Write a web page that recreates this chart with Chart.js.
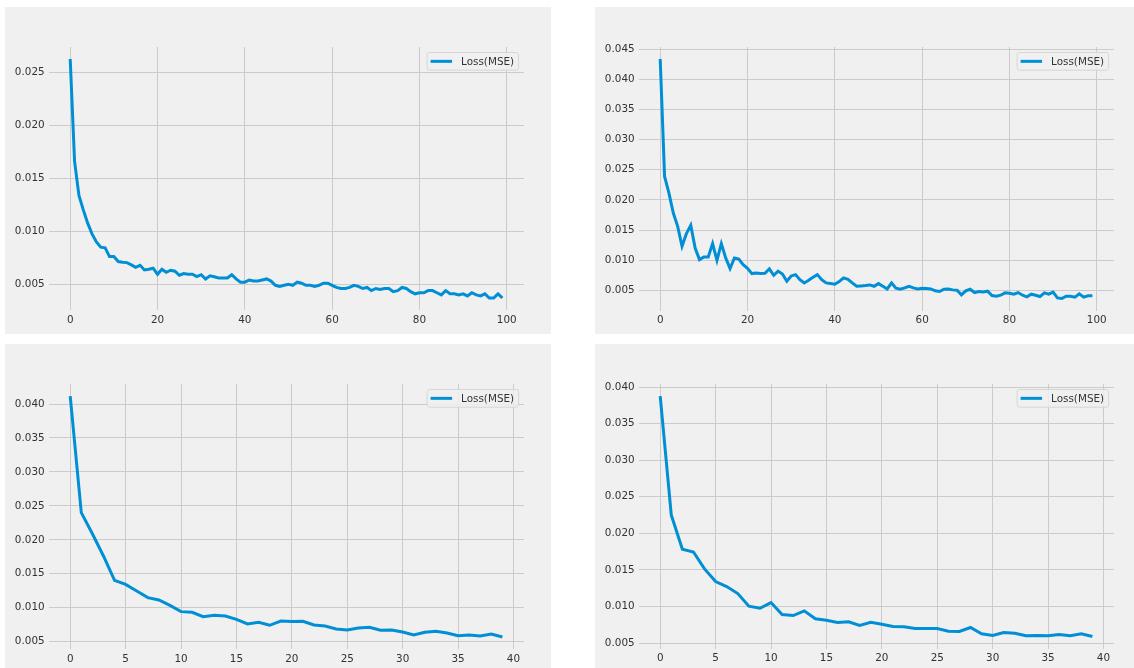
<!DOCTYPE html>
<html>
<head>
<meta charset="utf-8">
<script src="https://cdn.jsdelivr.net/npm/chart.js@4.4.1/dist/chart.umd.min.js"></script>
<style>
    body { margin: 0; background: #ffffff; width: 1134px; height: 668px; overflow: hidden; position: relative; }
    .panel { position: absolute; background: #f0f0f0; width: 546px; }
    .panel canvas { display: block; }
</style>
</head>
<body>
<div class="panel" style="left:5px; top:7px; height:327px;"><canvas id="chartTL" width="546" height="327"></canvas></div>
<div class="panel" style="left:595px; top:7px; height:327px;"><canvas id="chartTR" width="546" height="327"></canvas></div>
<div class="panel" style="left:5px; top:344px; height:330px;"><canvas id="chartBL" width="546" height="330"></canvas></div>
<div class="panel" style="left:595px; top:344px; height:330px;"><canvas id="chartBR" width="546" height="330"></canvas></div>

<script>
const lossA = [
    0.02623, 0.01657, 0.01337, 0.01201, 0.01076, 0.00975, 0.00899, 0.00849, 0.00843, 0.00761,
    0.00761, 0.00714, 0.00708, 0.00704, 0.00682, 0.00660, 0.00679, 0.00635, 0.00642, 0.00651,
    0.00594, 0.00642, 0.00613, 0.00632, 0.00623, 0.00585, 0.00601, 0.00594, 0.00594, 0.00572,
    0.00590, 0.00550, 0.00580, 0.00570, 0.00560, 0.00560, 0.00560, 0.00590, 0.00550, 0.00520,
    0.00520, 0.00540, 0.00530, 0.00530, 0.00540, 0.00550, 0.00530, 0.00490, 0.00480, 0.00490,
    0.00500, 0.00490, 0.00520, 0.00510, 0.00490, 0.00490, 0.00480, 0.00490, 0.00510, 0.00510,
    0.00490, 0.00470, 0.00460, 0.00460, 0.00470, 0.00490, 0.00480, 0.00460, 0.00470, 0.00440,
    0.00460, 0.00450, 0.00460, 0.00460, 0.00430, 0.00440, 0.00470, 0.00460, 0.00430, 0.00410,
    0.00420, 0.00420, 0.00440, 0.00440, 0.00420, 0.00400, 0.00440, 0.00410, 0.00410, 0.00400,
    0.00410, 0.00390, 0.00420, 0.00400, 0.00390, 0.00410, 0.00370, 0.00370, 0.00410, 0.00370
];
const lossB = [
    0.04335, 0.02390, 0.02114, 0.01784, 0.01563, 0.01233, 0.01442, 0.01580, 0.01205, 0.01012,
    0.01057, 0.01057, 0.01277, 0.01001, 0.01277, 0.01040, 0.00864, 0.01040, 0.01023, 0.00930,
    0.00869, 0.00781, 0.00792, 0.00781, 0.00787, 0.00860, 0.00753, 0.00822, 0.00775, 0.00654,
    0.00742, 0.00764, 0.00681, 0.00626, 0.00670, 0.00720, 0.00764, 0.00681, 0.00626, 0.00615,
    0.00604, 0.00648, 0.00709, 0.00687, 0.00626, 0.00571, 0.00577, 0.00582, 0.00593, 0.00571,
    0.00615, 0.00571, 0.00527, 0.00626, 0.00538, 0.00522, 0.00544, 0.00571, 0.00544, 0.00527,
    0.00538, 0.00533, 0.00527, 0.00495, 0.00484, 0.00522, 0.00527, 0.00511, 0.00505, 0.00429,
    0.00495, 0.00522, 0.00467, 0.00484, 0.00478, 0.00489, 0.00418, 0.00407, 0.00423, 0.00462,
    0.00456, 0.00440, 0.00467, 0.00423, 0.00396, 0.00440, 0.00423, 0.00401, 0.00462, 0.00440,
    0.00473, 0.00379, 0.00368, 0.00407, 0.00407, 0.00390, 0.00445, 0.00390, 0.00412, 0.00412
];
const lossC = [
    0.04118, 0.02400, 0.02090, 0.01762, 0.01403, 0.01344, 0.01246, 0.01148, 0.01114, 0.01035,
    0.00942, 0.00932, 0.00868, 0.00888, 0.00878, 0.00829, 0.00760, 0.00785, 0.00741, 0.00804,
    0.00795, 0.00800, 0.00745, 0.00731, 0.00687, 0.00672, 0.00701, 0.00711, 0.00667, 0.00672,
    0.00642, 0.00598, 0.00637, 0.00652, 0.00628, 0.00588, 0.00598, 0.00583, 0.00613, 0.00569
];
const lossD = [
    0.03877, 0.02250, 0.01782, 0.01745, 0.01514, 0.01341, 0.01273, 0.01177, 0.01005, 0.00977,
    0.01054, 0.00891, 0.00877, 0.00941, 0.00832, 0.00814, 0.00782, 0.00791, 0.00741, 0.00786,
    0.00759, 0.00727, 0.00723, 0.00700, 0.00700, 0.00700, 0.00664, 0.00659, 0.00714, 0.00627,
    0.00605, 0.00645, 0.00636, 0.00600, 0.00605, 0.00600, 0.00618, 0.00600, 0.00627, 0.00591
];

const xTicks100 = [0, 20, 40, 60, 80, 100];
const xTicks40 = [0, 5, 10, 15, 20, 25, 30, 35, 40];
const yTicksA = [0.005, 0.010, 0.015, 0.020, 0.025];
const yTicksB = [0.005, 0.010, 0.015, 0.020, 0.025, 0.030, 0.035, 0.040, 0.045];
const yTicksC = [0.005, 0.010, 0.015, 0.020, 0.025, 0.030, 0.035, 0.040];
const yTicksD = [0.005, 0.010, 0.015, 0.020, 0.025, 0.030, 0.035, 0.040];

const serieLabel = 'Loss(MSE)';
const lineColor = '#008fd5';
const gridColor = '#cbcbcb';
const textColor = '#333333';
const fontFamily = "'DejaVu Sans', sans-serif";
const fontSize = 10.4;

// leyenda dentro del area del grafico, arriba a la derecha (como matplotlib)
const innerLegend = {
    id: 'innerLegend',
    afterDraw(chart) {
        const ctx = chart.ctx;
        const area = chart.chartArea;
        const text = chart.data.datasets[0].label;
        ctx.save();
        ctx.font = fontSize + 'px ' + fontFamily;
        const textW = ctx.measureText(text).width;
        const w = 3.5 + 21.5 + 9 + textW + 4.5;
        const h = 17.7;
        const x = area.right - 5.4 - w;
        const y = area.top + 5.5;
        ctx.beginPath();
        ctx.roundRect(x, y, w, h, 2.5);
        ctx.fillStyle = 'rgba(240,240,240,0.8)';
        ctx.fill();
        ctx.strokeStyle = '#d6d6d6';
        ctx.lineWidth = 1;
        ctx.stroke();
        ctx.beginPath();
        ctx.moveTo(x + 3.5, y + h / 2);
        ctx.lineTo(x + 25, y + h / 2);
        ctx.strokeStyle = lineColor;
        ctx.lineWidth = 3;
        ctx.stroke();
        ctx.fillStyle = textColor;
        ctx.textBaseline = 'middle';
        ctx.fillText(text, x + 34, y + h / 2 + 0.5);
        ctx.restore();
    }
};

// limites con el 5% de margen que pone matplotlib
function margins(min, max) {
    const m = (max - min) * 0.05;
    return [min - m, max + m];
}

function makeConfig(values, xTicks, yTicks, bottomH) {
    const [xmin, xmax] = margins(0, values.length - 1);
    const [ymin, ymax] = margins(Math.min(...values), Math.max(...values));
    return {
        type: 'line',
        data: {
            datasets: [{
                label: serieLabel,
                data: values.map((v, i) => ({ x: i, y: v })),
                borderColor: lineColor,
                borderWidth: 3,
                pointRadius: 0,
                tension: 0,
                fill: false
            }]
        },
        options: {
            responsive: false,
            animation: false,
            events: [],
            layout: {
                padding: { top: 40, right: 27, left: 0, bottom: 0 }
            },
            plugins: {
                legend: { display: false },
                tooltip: { enabled: false }
            },
            scales: {
                x: {
                    type: 'linear',
                    min: xmin,
                    max: xmax,
                    afterBuildTicks: function (scale) {
                        scale.ticks = xTicks.map(v => ({ value: v }));
                    },
                    afterFit: function (scale) {
                        scale.height = bottomH;
                    },
                    border: { display: false },
                    grid: { color: gridColor, lineWidth: 1, drawTicks: false },
                    ticks: {
                        color: textColor,
                        padding: 4,
                        maxRotation: 0,
                        autoSkip: false,
                        font: { family: fontFamily, size: fontSize },
                        callback: v => String(v)
                    }
                },
                y: {
                    type: 'linear',
                    min: ymin,
                    max: ymax,
                    afterBuildTicks: function (scale) {
                        scale.ticks = yTicks.map(v => ({ value: v }));
                    },
                    afterFit: function (scale) {
                        scale.width = 43.6;
                    },
                    border: { display: false },
                    grid: { color: gridColor, lineWidth: 1, drawTicks: false },
                    ticks: {
                        color: textColor,
                        padding: 4,
                        autoSkip: false,
                        font: { family: fontFamily, size: fontSize },
                        callback: v => Number(v).toFixed(3)
                    }
                }
            }
        },
        plugins: [innerLegend]
    };
}

document.addEventListener('DOMContentLoaded', function () {
    new Chart(document.getElementById('chartTL'), makeConfig(lossA, xTicks100, yTicksA, 24));
    new Chart(document.getElementById('chartTR'), makeConfig(lossB, xTicks100, yTicksB, 23.5));
    new Chart(document.getElementById('chartBL'), makeConfig(lossC, xTicks40, yTicksC, 25));
    new Chart(document.getElementById('chartBR'), makeConfig(lossD, xTicks40, yTicksD, 25.5));
});
</script>
</body>
</html>
